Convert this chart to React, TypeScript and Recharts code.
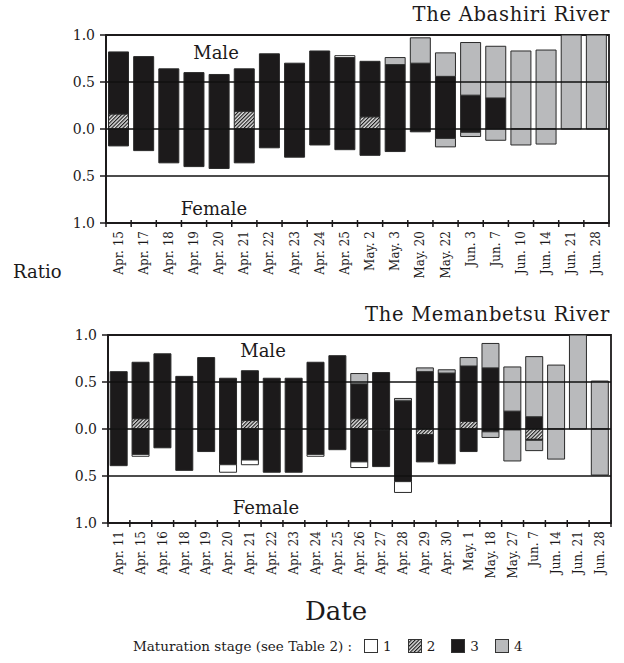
import { BarChart, Bar, XAxis, YAxis, ReferenceLine, ReferenceArea } from "recharts";

// Abashiri River sampling dates and stage ratios (male up, female down)
const abashiriDates = [
  "Apr. 15", "Apr. 17", "Apr. 18", "Apr. 19", "Apr. 20", "Apr. 21", "Apr. 22", "Apr. 23", "Apr. 24", "Apr. 25",
  "May. 2", "May. 3", "May. 20", "May. 22", "Jun. 3", "Jun. 7", "Jun. 10", "Jun. 14", "Jun. 21", "Jun. 28",
];
const abMale1 = [0, 0, 0, 0, 0, 0, 0, 0, 0, 0.02, 0, 0, 0, 0, 0, 0, 0, 0, 0, 0];
const abMale2 = [0.16, 0, 0, 0, 0, 0.19, 0, 0, 0, 0, 0.13, 0, 0, 0, 0, 0, 0, 0, 0, 0];
const abMale3 = [0.66, 0.77, 0.64, 0.6, 0.58, 0.45, 0.8, 0.7, 0.83, 0.76, 0.59, 0.685, 0.7, 0.56, 0.36, 0.33, 0, 0, 0, 0];
const abMale4 = [0, 0, 0, 0, 0, 0, 0, 0, 0, 0, 0, 0.075, 0.27, 0.25, 0.56, 0.55, 0.83, 0.84, 1.0, 1.0];
const abFemale1 = [0, 0, 0, 0, 0, 0, 0, 0, 0, 0, 0, 0, 0, 0, 0, 0, 0, 0, 0, 0];
const abFemale2 = [0, 0, 0, 0, 0, 0, 0, 0, 0, 0, 0, 0, 0, 0, 0, 0, 0, 0, 0, 0];
const abFemale3 = [0.18, 0.23, 0.36, 0.4, 0.42, 0.36, 0.2, 0.3, 0.17, 0.22, 0.28, 0.24, 0.03, 0.1, 0.035, 0, 0, 0, 0, 0];
const abFemale4 = [0, 0, 0, 0, 0, 0, 0, 0, 0, 0, 0, 0, 0, 0.09, 0.045, 0.12, 0.17, 0.16, 0, 0];

// Memanbetsu River
const memanbetsuDates = [
  "Apr. 11", "Apr. 15", "Apr. 16", "Apr. 18", "Apr. 19", "Apr. 20", "Apr. 21", "Apr. 22", "Apr. 23", "Apr. 24",
  "Apr. 25", "Apr. 26", "Apr. 27", "Apr. 28", "Apr. 29", "Apr. 30", "May. 1", "May. 18", "May. 27", "Jun. 7",
  "Jun. 14", "Jun. 21", "Jun. 28",
];
const meMale1 = [0, 0, 0, 0, 0, 0, 0, 0, 0, 0, 0, 0, 0, 0, 0, 0, 0, 0, 0, 0, 0, 0, 0];
const meMale2 = [0, 0.11, 0, 0, 0, 0, 0.09, 0, 0, 0, 0, 0.11, 0, 0, 0, 0, 0.08, 0, 0, 0, 0, 0, 0];
const meMale3 = [0.61, 0.6, 0.8, 0.56, 0.76, 0.54, 0.53, 0.54, 0.54, 0.71, 0.78, 0.37, 0.6, 0.3, 0.61, 0.595, 0.59, 0.65, 0.19, 0.13, 0, 0, 0];
const meMale4 = [0, 0, 0, 0, 0, 0, 0, 0, 0, 0, 0, 0.11, 0, 0.025, 0.04, 0.035, 0.09, 0.26, 0.47, 0.64, 0.68, 1.0, 0.51];
const meFemale1 = [0, 0.02, 0, 0, 0, 0.08, 0.05, 0, 0, 0.02, 0, 0.06, 0, 0.115, 0, 0, 0, 0, 0, 0, 0, 0, 0];
const meFemale2 = [0, 0, 0, 0, 0, 0, 0, 0, 0, 0, 0, 0, 0.01, 0, 0.06, 0, 0, 0, 0, 0.11, 0, 0, 0];
const meFemale3 = [0.39, 0.27, 0.2, 0.44, 0.24, 0.38, 0.33, 0.46, 0.46, 0.27, 0.22, 0.35, 0.39, 0.56, 0.29, 0.37, 0.24, 0.03, 0.01, 0.01, 0, 0, 0];
const meFemale4 = [0, 0, 0, 0, 0, 0, 0, 0, 0, 0, 0, 0, 0, 0, 0, 0, 0, 0.06, 0.33, 0.11, 0.32, 0, 0.49];

const yTicks = [-1, -0.5, 0, 0.5, 1];
const stageLabels = ["1", "2", "3", "4"];

const FONT = "'DejaVu Serif', serif";
const INK = "#1c1a1b";
const GRAY = "#b9babc";

type PanelProps = {
  id: string;
  title: string;
  dates: string[];
  male: number[][]; // stage 1..4
  female: number[][];
  marginLeft: number;
  marginRight: number;
  top: number;
  maleAt: [number, number];
  femaleAt: [number, number];
};

const CHART_W = 624;
const CHART_H = 300;
const Y_AXIS_W = 40;
const X_AXIS_H = 70;

function HatchPattern({ id }: { id: string }) {
  return (
    <pattern id={id} width="2.6" height="2.6" patternUnits="userSpaceOnUse" patternTransform="rotate(45)">
      <rect width="2.6" height="2.6" fill="#e4e4e4" />
      <line x1="0.6" y1="0" x2="0.6" y2="2.6" stroke="#1e1e1e" strokeWidth="1.2" />
    </pattern>
  );
}

function Panel({ id, title, dates, male, female, marginLeft, marginRight, top, maleAt, femaleAt }: PanelProps) {
  const rows = dates.map((date, i) => ({
    date,
    m1: male[0][i],
    m2: male[1][i],
    m3: male[2][i],
    m4: male[3][i],
    f1: -female[0][i],
    f2: -female[1][i],
    f3: -female[2][i],
    f4: -female[3][i],
  }));
  const plotW = CHART_W - marginLeft - marginRight - Y_AXIS_W;
  const band = plotW / dates.length;
  const hatch = `url(#hatch-${id})`;

  // tick marks sit on the band boundaries, labels run bottom-to-top under each bar
  const DateTick = (props: any) => {
    const { x, y, payload, index } = props;
    const isLast = index === dates.length - 1;
    return (
      <g>
        <line x1={x - band / 2} x2={x - band / 2} y1={y - 3} y2={y + 4} stroke={INK} strokeWidth={1.5} />
        {isLast && <line x1={x + band / 2} x2={x + band / 2} y1={y - 3} y2={y + 4} stroke={INK} strokeWidth={1.5} />}
        <text
          x={x}
          y={y + 8}
          transform={`rotate(-90 ${x} ${y + 8})`}
          textAnchor="end"
          dominantBaseline="central"
          fontFamily={FONT}
          fontSize={12}
          fill={INK}
        >
          {payload.value}
        </text>
      </g>
    );
  };

  const seg = (key: string, fill: string) => (
    <Bar
      key={key}
      dataKey={key}
      stackId="s"
      fill={fill}
      stroke="#2a2a2a"
      strokeWidth={1}
      isAnimationActive={false}
    />
  );

  return (
    <div style={{ position: "absolute", left: 0, top, width: CHART_W, height: CHART_H }}>
      <BarChart
        width={CHART_W}
        height={CHART_H}
        data={rows}
        stackOffset="sign"
        barCategoryGap="10%"
        margin={{ top: 35, right: marginRight, left: marginLeft, bottom: CHART_H - 35 - 188 - X_AXIS_H }}
      >
        <defs>
          <HatchPattern id={`hatch-${id}`} />
        </defs>
        <ReferenceArea y1={-1} y2={1} fill="none" stroke={INK} strokeWidth={1.8} ifOverflow="visible" />
        <XAxis
          dataKey="date"
          interval={0}
          height={X_AXIS_H}
          tickLine={false}
          tickSize={0}
          tickMargin={0}
          axisLine={{ stroke: INK, strokeWidth: 2 }}
          tick={DateTick}
        />
        <YAxis
          type="number"
          domain={[-1, 1]}
          ticks={yTicks}
          width={Y_AXIS_W}
          tickSize={6}
          tickMargin={5}
          tickLine={{ stroke: INK, strokeWidth: 1.5 }}
          axisLine={{ stroke: INK, strokeWidth: 2 }}
          tickFormatter={(v: number) => Math.abs(v).toFixed(1)}
          tick={{ fontFamily: FONT, fontSize: 14, fill: INK }}
        />
        {seg("m2", hatch)}
        {seg("m3", INK)}
        {seg("m4", GRAY)}
        {seg("m1", "#ffffff")}
        {seg("f2", hatch)}
        {seg("f3", INK)}
        {seg("f4", GRAY)}
        {seg("f1", "#ffffff")}
        <ReferenceLine y={0.5} stroke="#111" strokeWidth={1.3} />
        <ReferenceLine y={0} stroke="#111" strokeWidth={1.3} />
        <ReferenceLine y={-0.5} stroke="#111" strokeWidth={1.3} />
      </BarChart>
      <div
        style={{
          position: "absolute",
          right: 14,
          top: 3,
          fontFamily: FONT,
          fontSize: 19.5,
          letterSpacing: 0.7,
          color: INK,
          lineHeight: "24px",
          whiteSpace: "nowrap",
        }}
      >
        {title}
      </div>
      <div style={{ position: "absolute", left: maleAt[0], top: maleAt[1], transform: "translate(-50%,-50%)", fontFamily: FONT, fontSize: 18, color: INK }}>
        Male
      </div>
      <div style={{ position: "absolute", left: femaleAt[0], top: femaleAt[1], transform: "translate(-50%,-50%)", fontFamily: FONT, fontSize: 18, color: INK }}>
        Female
      </div>
    </div>
  );
}

function Swatch({ fill }: { fill: string }) {
  return (
    <svg width={14} height={14} style={{ verticalAlign: "-2px", marginRight: 5 }}>
      <defs>
        <HatchPattern id="hatch-legend" />
      </defs>
      <rect x={0.5} y={0.5} width={13} height={13} fill={fill} stroke="#333" strokeWidth={1} />
    </svg>
  );
}

export default function App() {
  const legendFills = ["#ffffff", "url(#hatch-legend)", INK, GRAY];
  return (
    <div style={{ position: "absolute", left: 0, top: 0, width: 624, height: 663, background: "#fff", fontFamily: FONT }}>
      <Panel
        id="ab"
        title="The Abashiri River"
        dates={abashiriDates}
        male={[abMale1, abMale2, abMale3, abMale4]}
        female={[abFemale1, abFemale2, abFemale3, abFemale4]}
        marginLeft={66}
        marginRight={15}
        top={0}
        maleAt={[216, 52]}
        femaleAt={[214, 208]}
      />
      <Panel
        id="me"
        title="The Memanbetsu River"
        dates={memanbetsuDates}
        male={[meMale1, meMale2, meMale3, meMale4]}
        female={[meFemale1, meFemale2, meFemale3, meFemale4]}
        marginLeft={68}
        marginRight={13}
        top={300}
        maleAt={[263, 50]}
        femaleAt={[266, 207]}
      />
      <div style={{ position: "absolute", left: 13, top: 261, fontSize: 18, color: INK }}>Ratio</div>
      <div style={{ position: "absolute", left: 0, width: 672, top: 596, textAlign: "center", fontSize: 26, color: INK }}>
        Date
      </div>
      <div style={{ position: "absolute", left: 133, top: 638, fontSize: 13.5, color: INK, whiteSpace: "nowrap" }}>
        <span style={{ marginRight: 12 }}>Maturation stage (see Table 2) :</span>
        {stageLabels.map((s, i) => (
          <span key={s} style={{ marginRight: 16 }}>
            <Swatch fill={legendFills[i]} />
            {s}
          </span>
        ))}
      </div>
    </div>
  );
}
